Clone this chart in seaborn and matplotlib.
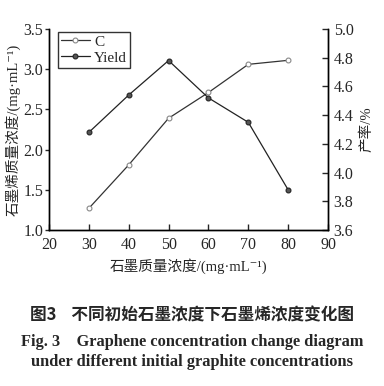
import numpy as np
import pandas as pd
import seaborn as sns
from matplotlib import pyplot as plt

# graphite mass concentration (mg/mL)
graphite = [30, 40, 50, 60, 70, 80]
# graphene concentration C (mg/mL), left axis
conc_c = [1.27, 1.81, 2.39, 2.71, 3.06, 3.11]
# yield (%), right axis
yield_pct = [4.28, 4.54, 4.78, 4.52, 4.35, 3.88]

x_ticks = [20, 30, 40, 50, 60, 70, 80, 90]
left_ticks = [1.0, 1.5, 2.0, 2.5, 3.0, 3.5]
right_ticks = [3.6, 3.8, 4.0, 4.2, 4.4, 4.6, 4.8, 5.0]


def plot_chart():
    """ Dual axis line chart with caption."""

    df = pd.DataFrame({'x': graphite, 'C': conc_c, 'Yield': yield_pct})

    sns.set_style("ticks")
    plt.rcParams['font.family'] = ['Liberation Serif', 'Noto Sans CJK SC', 'DejaVu Serif']
    plt.rcParams['font.size'] = 10

    fig = plt.figure(figsize=(3.84, 3.86), dpi=100)
    ax = fig.add_axes([0.1276, 0.404, 0.7266, 0.521])
    ax2 = ax.twinx()

    sns.lineplot(df, x='x', y='C', ax=ax, color='#333333', linewidth=0.9,
                 marker='o', markersize=3.5, markerfacecolor='white',
                 markeredgecolor='#888888', markeredgewidth=0.8, label='C',
                 legend=False)
    sns.lineplot(df, x='x', y='Yield', ax=ax2, color='#222222', linewidth=0.9,
                 marker='o', markersize=3.5, markerfacecolor='#555555',
                 markeredgecolor='#222222', markeredgewidth=0.8, label='Yield',
                 legend=False)

    # axes limits and ticks
    ax.set_xlim(20, 90)
    ax.set_ylim(1.0, 3.5)
    ax2.set_ylim(3.6, 5.0)
    ax.set_xticks(x_ticks)
    ax.set_yticks(left_ticks)
    ax2.set_yticks(right_ticks)
    ax.set_yticklabels(['{:.1f}'.format(v) for v in left_ticks])
    ax2.set_yticklabels(['{:.1f}'.format(v) for v in right_ticks])

    for a in (ax, ax2):
        a.spines['top'].set_visible(False)
        for s in a.spines.values():
            s.set_linewidth(1.0)
            s.set_color('black')
    ax.tick_params(axis='x', direction='in', length=4, width=1, labelsize=11.5, pad=5)
    ax.tick_params(axis='y', direction='out', length=3, width=1, labelsize=11.5, pad=1)
    ax2.tick_params(axis='y', direction='in', length=4, width=1, labelsize=11.5, pad=4)

    ax.set_xlabel('石墨质量浓度/(mg·mL⁻¹)', fontsize=10.5, labelpad=4)
    ax.set_ylabel('石墨烯质量浓度/(mg·mL⁻¹)', fontsize=10.5, labelpad=2)
    ax2.set_ylabel('产率/%', fontsize=10.5, labelpad=5)

    # combined legend
    h1, l1 = ax.get_legend_handles_labels()
    h2, l2 = ax2.get_legend_handles_labels()
    leg = ax.legend(h1 + h2, l1 + l2, loc='upper left', bbox_to_anchor=(0.02, 1.0),
                    frameon=True, fancybox=False, edgecolor='black', fontsize=11,
                    handlelength=1.9, borderpad=0.2, labelspacing=0.15,
                    handletextpad=0.3, borderaxespad=0.2)
    leg.get_frame().set_linewidth(1.0)

    # caption
    fig.text(0.5, 0.184, '图3    不同初始石墨浓度下石墨烯浓度变化图', ha='center', va='center',
             fontsize=12, fontweight='bold', family=['Noto Sans CJK SC', 'DejaVu Sans'])
    fig.text(0.5, 0.114, 'Fig. 3    Graphene concentration change diagram', ha='center',
             va='center', fontsize=11.8, fontweight='bold')
    fig.text(0.5, 0.062, 'under different initial graphite concentrations', ha='center',
             va='center', fontsize=11.8, fontweight='bold')

    fig.savefig('out.png', dpi=100)


if __name__ == "__main__":
    plot_chart()
